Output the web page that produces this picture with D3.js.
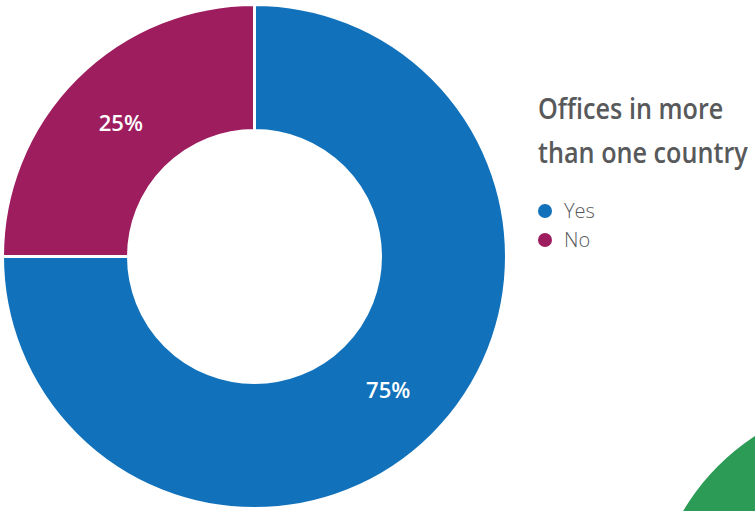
<!DOCTYPE html>
<html>
<head>
<meta charset="utf-8">
<script src="https://cdn.jsdelivr.net/npm/d3@7"></script>
<style>
  html, body { margin: 0; padding: 0; background: #fff; }
  svg { display: block; }
</style>
</head>
<body>
<div id="chart"></div>
<script>
const categories = ["Yes", "No"];
const values = [75, 25];
const colors = ["#1172bb", "#9d1d5f"];
const titleLines = ["Offices in more", "than one country"];

const width = 755, height = 511;
const cx = 254.5, cy = 256.5;
const outerR = 252, innerR = 126;
const titleMaxWidth = 210;

const svg = d3.select("#chart").append("svg")
    .attr("width", width)
    .attr("height", height)
    .attr("viewBox", `0 0 ${width} ${height}`);

// decorative green disc peeking in at the bottom right
svg.append("circle")
    .attr("cx", 880).attr("cy", 628).attr("r", 229)
    .attr("fill", "#2b9b55");

const color = d3.scaleOrdinal().domain(categories).range(colors);
const pie = d3.pie().sort(null).value(d => d.value);
const arc = d3.arc().innerRadius(innerR).outerRadius(outerR);
const labelArc = d3.arc().innerRadius((innerR + outerR) / 2).outerRadius((innerR + outerR) / 2);

const data = categories.map((c, i) => ({name: c, value: values[i]}));
const total = d3.sum(values);

const g = svg.append("g").attr("transform", `translate(${cx},${cy})`);

g.selectAll("path.slice")
    .data(pie(data))
    .enter().append("path")
    .attr("class", "slice")
    .attr("d", arc)
    .attr("fill", d => color(d.data.name))
    .attr("stroke", "#fff")
    .attr("stroke-width", 3);

g.selectAll("text.pct")
    .data(pie(data))
    .enter().append("text")
    .attr("class", "pct")
    .attr("transform", d => `translate(${labelArc.centroid(d)})`)
    .attr("text-anchor", "middle")
    .attr("dy", "0.36em")
    .style("font-family", "'Open Sans', sans-serif")
    .style("font-weight", 600)
    .style("font-size", "22px")
    .style("fill", "#fff")
    .text(d => Math.round(d.data.value / total * 100) + "%");

// title, squeezed horizontally so the widest line fits the reference width
const title = svg.append("g").attr("id", "title");
title.selectAll("text")
    .data(titleLines)
    .enter().append("text")
    .attr("y", (d, i) => 119 + i * 44)
    .style("font-family", "'Open Sans', sans-serif")
    .style("font-weight", 600)
    .style("font-size", "28px")
    .style("fill", "#58595b")
    .text(d => d);
const widest = d3.max(title.selectAll("text").nodes(), n => n.getComputedTextLength());
const sx = Math.min(1, titleMaxWidth / widest);
title.attr("transform", `translate(538,0) scale(${sx},1)`);

// legend
const legend = svg.append("g").attr("id", "legend")
    .selectAll("g")
    .data(categories)
    .enter().append("g")
    .attr("transform", (d, i) => `translate(545,${211 + i * 29})`);

legend.append("circle")
    .attr("r", 7)
    .attr("fill", d => color(d));

legend.append("text")
    .attr("x", 19)
    .attr("dy", "0.36em")
    .style("font-family", "'Open Sans', sans-serif")
    .style("font-weight", 300)
    .style("font-size", "20px")
    .style("fill", "#58595b")
    .text(d => d);
</script>
</body>
</html>
